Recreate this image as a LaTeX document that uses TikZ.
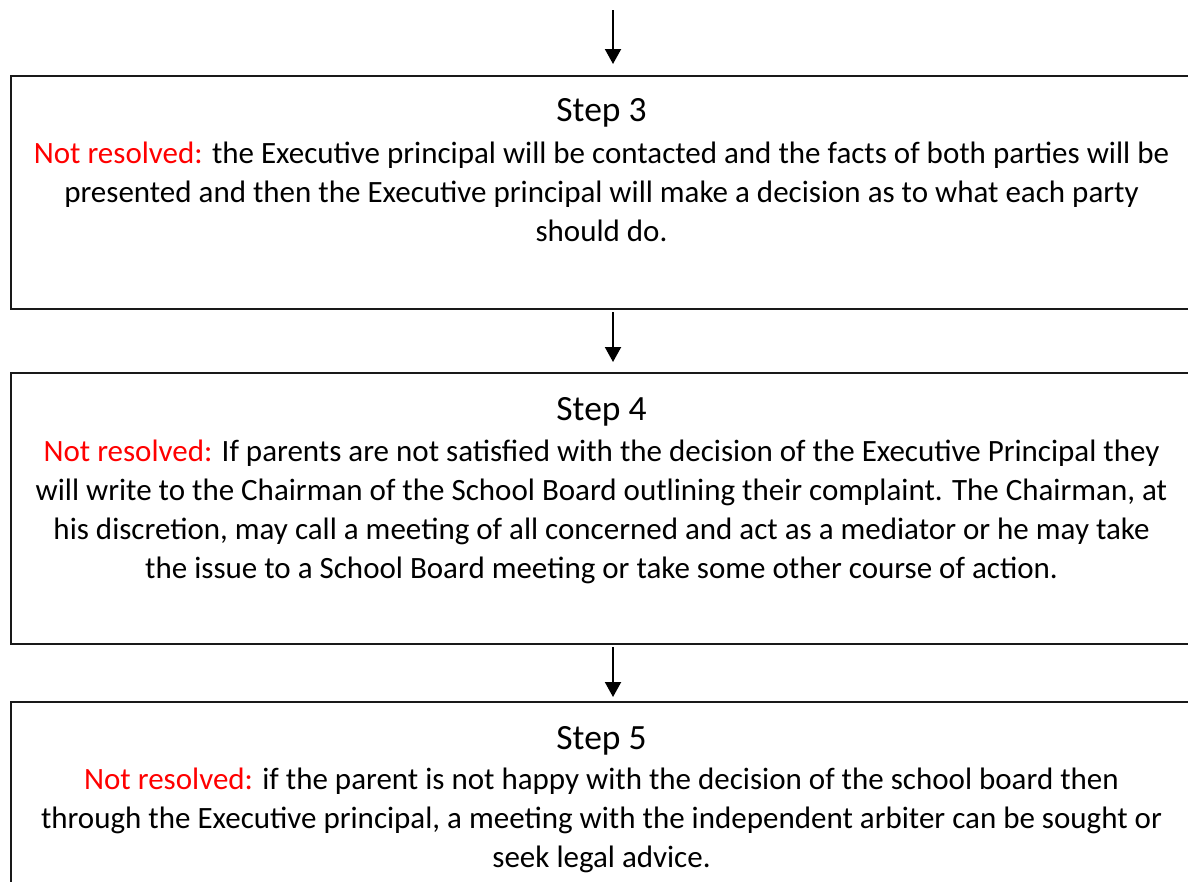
\documentclass[tikz,border=0pt]{standalone}
\usepackage{fontspec}
\setmainfont{Carlito}
\usetikzlibrary{arrows.meta}
\definecolor{nr}{RGB}{255,0,0}
\tikzset{
  stepbox/.style={draw=black!90, line width=2pt, inner sep=0pt},
  steptext/.style={align=center, inner sep=0pt, anchor=base,
    font=\fontsize{31}{39}\selectfont},
  steptitle/.style={steptext, font=\fontsize{35.5}{39}\selectfont},
  flow/.style={-{Triangle[width=16pt,length=15pt]}, line width=2pt},
}
\newcommand{\nres}{\textcolor{nr}{Not resolved:}}
\begin{document}
\begin{tikzpicture}[x=1pt,y=-1pt]
\useasboundingbox (0,0) rectangle (1188,881);
\begin{scope}
\clip (0,0) rectangle (1188,881);
\node[stepbox, minimum width=1184pt, minimum height=233pt, anchor=north west] (b3) at (9.5,75) {};
\node[stepbox, minimum width=1184pt, minimum height=271pt, anchor=north west] (b4) at (9.5,372) {};
\node[stepbox, minimum width=1184pt, minimum height=260pt, anchor=north west] (b5) at (9.5,701) {};
\end{scope}
\node[steptitle] (s3) at (601.5,121) {Step 3};
\node[steptext] (t3) at (601.5,241) {\nres{} the Executive principal will be contacted and the facts of both parties will be\\presented and then the Executive principal will make a decision as to what each party\\should do.};
\node[steptitle] (s4) at (601.5,420) {Step 4};
\node[steptext] (t4) at (601.5,578) {\nres{} If parents are not satisfied with the decision of the Executive Principal they\\will write to the Chairman of the School Board outlining their complaint. The Chairman, at\\his discretion, may call a meeting of all concerned and act as a mediator or he may take\\the issue to a School Board meeting or take some other course of action.};
\node[steptitle] (s5) at (601.5,749) {Step 5};
\node[steptext] (t5) at (601.5,867) {\nres{} if the parent is not happy with the decision of the school board then\\through the Executive principal, a meeting with the independent arbiter can be sought or\\seek legal advice.};
\coordinate (top) at (613,10);
\draw[flow] (top) -- ([yshift=11pt]b3.north -| top);
\draw[flow] (b3.south -| top) ++(0,2) -- ([yshift=10pt]b4.north -| top);
\draw[flow] (b4.south -| top) ++(0,2) -- ([yshift=4pt]b5.north -| top);
\end{tikzpicture}
\end{document}
